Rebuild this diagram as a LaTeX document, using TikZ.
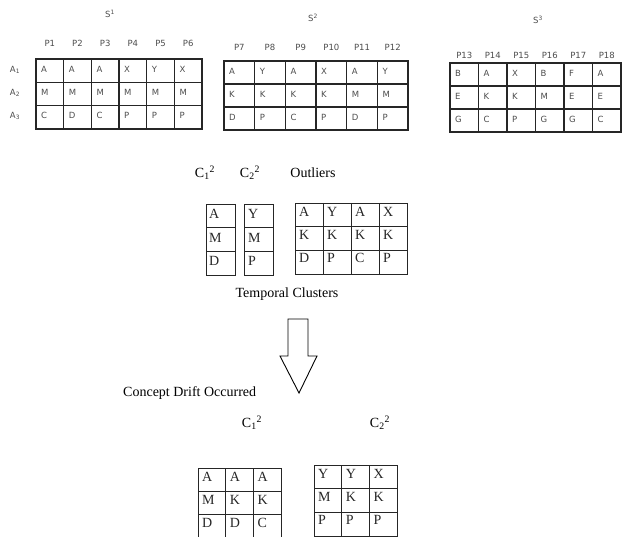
\documentclass[tikz,border=0pt]{standalone}
\usepackage{fontspec}
\setmainfont{Liberation Serif}
\setsansfont{DejaVu Sans}
\usetikzlibrary{positioning}

% frame of a table: x0, y0, x1, y1, columns, rows, line style
\newcommand{\tablegrid}[7]{%
  \draw[#7] (#1,#2) rectangle (#3,#4);
  \foreach \k in {1,...,#5}
    \draw[#7] ({#1+\k*(#3-#1)/#5},#2) -- ({#1+\k*(#3-#1)/#5},#4);
  \foreach \k in {1,...,#6}
    \draw[#7] (#1,{#2+\k*(#4-#2)/#6}) -- (#3,{#2+\k*(#4-#2)/#6});
}

\begin{document}
\begin{tikzpicture}[x=1pt, y=-1pt,
    sanstxt/.style={inner sep=0pt, text=black!70, font=\sffamily\fontsize{8.5}{10}\selectfont},
    cell/.style={sanstxt, anchor=west},
    serif/.style={inner sep=0pt, font=\fontsize{14}{16}\selectfont},
    scell/.style={serif, anchor=west, text=black!85},
    tabline/.style={line width=1.3pt, black!85},
    stabline/.style={line width=0.9pt, black!85}]
  \useasboundingbox (0,0) rectangle (628,537);

  % the three windows S1, S2, S3
  \node[sanstxt] (s1) at (110,14) {S\textsuperscript{1}};
  \node[sanstxt] (s2) at (313,18) {S\textsuperscript{2}};
  \node[sanstxt] (s3) at (538,20) {S\textsuperscript{3}};
  \node[sanstxt] (a1) at (15,70) {A\textsubscript{1}};
  \node[sanstxt] (a2) at (15,93) {A\textsubscript{2}};
  \node[sanstxt] (a3) at (15,116) {A\textsubscript{3}};

  \tablegrid{36}{59}{202}{129}{6}{3}{tabline}
  \foreach \pp/\ra/\rb/\rc [count=\i] in {P1/A/M/C, P2/A/M/D, P3/A/M/C, P4/X/M/P, P5/Y/M/P, P6/X/M/P} {
    \node[sanstxt] (s1p\i) at ({36+(\i-0.5)*27.67},43) {\pp};
    \node[cell] (s1a\i) at ({36+(\i-1)*27.67+5},69) {\ra};
    \node[cell] (s1b\i) at ({36+(\i-1)*27.67+5},92) {\rb};
    \node[cell] (s1c\i) at ({36+(\i-1)*27.67+5},115) {\rc};
  }

  \tablegrid{224}{61}{408}{130}{6}{3}{tabline}
  \foreach \pp/\ra/\rb/\rc [count=\i] in {P7/A/K/D, P8/Y/K/P, P9/A/K/C, P10/X/K/P, P11/A/M/D, P12/Y/M/P} {
    \node[sanstxt] (s2p\i) at ({224+(\i-0.5)*30.67},47) {\pp};
    \node[cell] (s2a\i) at ({224+(\i-1)*30.67+5},71) {\ra};
    \node[cell] (s2b\i) at ({224+(\i-1)*30.67+5},94) {\rb};
    \node[cell] (s2c\i) at ({224+(\i-1)*30.67+5},117) {\rc};
  }

  \tablegrid{450}{63}{621}{132}{6}{3}{tabline}
  \foreach \pp/\ra/\rb/\rc [count=\i] in {P13/B/E/G, P14/A/K/C, P15/X/K/P, P16/B/M/G, P17/F/E/G, P18/A/E/C} {
    \node[sanstxt] (s3p\i) at ({450+(\i-0.5)*28.5},55) {\pp};
    \node[cell] (s3a\i) at ({450+(\i-1)*28.5+5},73) {\ra};
    \node[cell] (s3b\i) at ({450+(\i-1)*28.5+5},96) {\rb};
    \node[cell] (s3c\i) at ({450+(\i-1)*28.5+5},119) {\rc};
  }

  % temporal clusters of S2 and its outliers
  \node[serif] (c1) at (205,173) {C\textsubscript{1}\textsuperscript{2}};
  \node[serif] (c2) at (250,173) {C\textsubscript{2}\textsuperscript{2}};
  \node[serif] (outl) at (313,173) {Outliers};

  \tablegrid{206}{204}{235}{275}{1}{3}{stabline}
  \tablegrid{244}{204}{273}{275}{1}{3}{stabline}
  \foreach \ra/\rb [count=\i] in {A/Y, M/M, D/P} {
    \node[scell] (ca\i) at (209,{204+(\i-1)*23.67+10}) {\ra};
    \node[scell] (cb\i) at (248,{204+(\i-1)*23.67+10}) {\rb};
  }
  \tablegrid{295}{203}{407}{274}{4}{3}{stabline}
  \foreach \ra/\rb/\rc [count=\i] in {A/K/D, Y/K/P, A/K/C, X/K/P} {
    \node[scell] (oa\i) at ({295+(\i-1)*28+4},212) {\ra};
    \node[scell] (ob\i) at ({295+(\i-1)*28+4},235) {\rb};
    \node[scell] (oc\i) at ({295+(\i-1)*28+4},258) {\rc};
  }
  \node[serif] (temp) at (287,294) {Temporal Clusters};

  % hollow arrow
  \draw[line width=0.9pt] (288,319) -- (308,319) -- (308,356) -- (317,356)
    -- (299,393) -- (280,356) -- (288,356) -- cycle;
  \node[serif, anchor=west] (drift) at (123,393) {Concept Drift Occurred};

  % clusters after the drift
  \node[serif] (d1) at (252,423) {C\textsubscript{1}\textsuperscript{2}};
  \node[serif] (d2) at (380,423) {C\textsubscript{2}\textsuperscript{2}};
  \tablegrid{198}{468}{281}{537}{3}{3}{stabline}
  \foreach \ra/\rb/\rc [count=\i] in {A/M/D, A/K/D, A/K/C} {
    \node[scell] (da\i) at ({198+(\i-1)*27.67+4},477) {\ra};
    \node[scell] (db\i) at ({198+(\i-1)*27.67+4},500) {\rb};
    \node[scell] (dc\i) at ({198+(\i-1)*27.67+4},523) {\rc};
  }
  \tablegrid{314}{465}{397}{536}{3}{3}{stabline}
  \foreach \ra/\rb/\rc [count=\i] in {Y/M/P, Y/K/P, X/K/P} {
    \node[scell] (ea\i) at ({314+(\i-1)*27.67+4},474) {\ra};
    \node[scell] (eb\i) at ({314+(\i-1)*27.67+4},497) {\rb};
    \node[scell] (ec\i) at ({314+(\i-1)*27.67+4},520) {\rc};
  }
\end{tikzpicture}
\end{document}
